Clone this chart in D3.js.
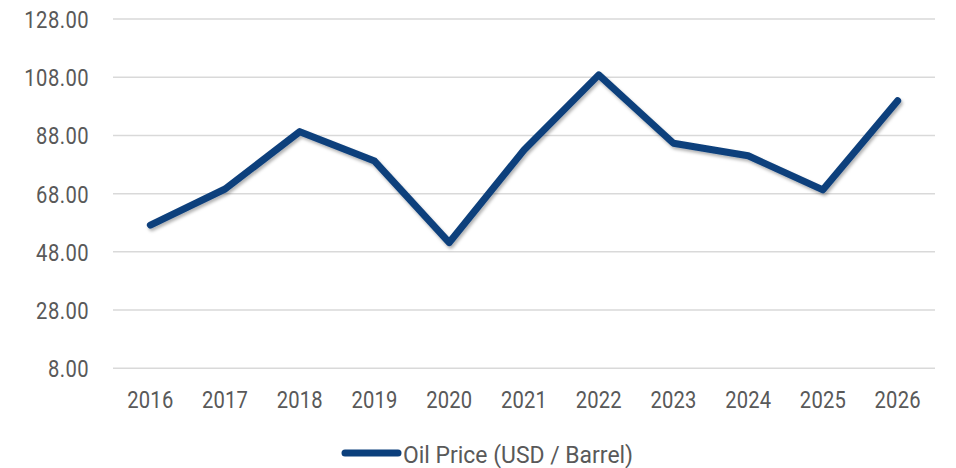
<!DOCTYPE html>
<html>
<head>
<meta charset="utf-8">
<script src="https://cdn.jsdelivr.net/npm/d3@7"></script>
<style>
  body { margin: 0; background: #fff; }
  text { font-family: Roboto, "Noto Sans", sans-serif; fill: #595959; }
</style>
</head>
<body>
<div id="chart"></div>
<script>
"use strict";

var years = ["2016", "2017", "2018", "2019", "2020", "2021", "2022", "2023", "2024", "2025", "2026"];
var oilPrice = [57.2, 69.6, 89.3, 79.2, 51.2, 83.0, 108.8, 85.3, 81.0, 69.3, 99.9];
var yTicks = [8, 28, 48, 68, 88, 108, 128];
var seriesName = "Oil Price (USD / Barrel)";

var width = 956;
var height = 468;
var lineColor = "#0b3f7c";
// the source font is a narrow one, so squeeze Roboto a little
var squeeze = "scale(0.86,1)";

var svg = d3.select("#chart").append("svg")
  .attr("width", width)
  .attr("height", height);

var defs = svg.append("defs");
var shadow = defs.append("filter")
  .attr("id", "shadow")
  .attr("x", "-10%").attr("y", "-10%")
  .attr("width", "120%").attr("height", "130%");
shadow.append("feDropShadow")
  .attr("dx", 1.5).attr("dy", 2.5)
  .attr("stdDeviation", 1.8)
  .attr("flood-color", "#000")
  .attr("flood-opacity", 0.3);

var x = d3.scaleBand()
  .domain(years)
  .range([113, 935]);

var y = d3.scaleLinear()
  .domain([8, 128])
  .range([368.3, 19]);

// gridlines
svg.append("g")
  .attr("class", "grid")
  .selectAll("line")
  .data(yTicks)
  .enter()
  .append("line")
  .attr("x1", 113)
  .attr("x2", 935)
  .attr("y1", function(d) { return y(d); })
  .attr("y2", function(d) { return y(d); })
  .attr("stroke", "#d9d9d9")
  .attr("stroke-width", 1.5);

// y axis labels
var yAxis = d3.axisLeft(y)
  .tickValues(yTicks)
  .tickFormat(d3.format(".2f"))
  .tickSize(0)
  .tickPadding(0);

svg.append("g")
  .attr("transform", "translate(89,0)")
  .call(yAxis)
  .call(function(g) { g.select(".domain").remove(); })
  .selectAll("text")
  .attr("font-size", "23.5px")
  .attr("letter-spacing", "0.5px")
  .attr("dy", "0.36em")
  .attr("transform", squeeze)
  .attr("fill", "#595959");

// x axis labels
var xAxis = d3.axisBottom(x)
  .tickSize(0)
  .tickPadding(0);

svg.append("g")
  .attr("transform", "translate(0,391.5)")
  .call(xAxis)
  .call(function(g) { g.select(".domain").remove(); })
  .selectAll("text")
  .attr("font-size", "23.5px")
  .attr("letter-spacing", "0.2px")
  .attr("dy", "0.71em")
  .attr("transform", squeeze)
  .attr("fill", "#595959");

// series line
var line = d3.line()
  .x(function(d, i) { return x(years[i]) + x.bandwidth() / 2; })
  .y(function(d) { return y(d); });

svg.append("path")
  .datum(oilPrice)
  .attr("fill", "none")
  .attr("stroke", lineColor)
  .attr("stroke-width", 7)
  .attr("stroke-linejoin", "round")
  .attr("stroke-linecap", "round")
  .attr("filter", "url(#shadow)")
  .attr("d", line);

// legend
var legend = svg.append("g").attr("class", "legend");
legend.append("line")
  .attr("x1", 345).attr("x2", 398)
  .attr("y1", 453).attr("y2", 453)
  .attr("stroke", lineColor)
  .attr("stroke-width", 7)
  .attr("stroke-linecap", "round");
legend.append("text")
  .attr("transform", "translate(403,462.5) scale(0.955,1)")
  .attr("font-size", "24px")
  .text(seriesName);
</script>
</body>
</html>
